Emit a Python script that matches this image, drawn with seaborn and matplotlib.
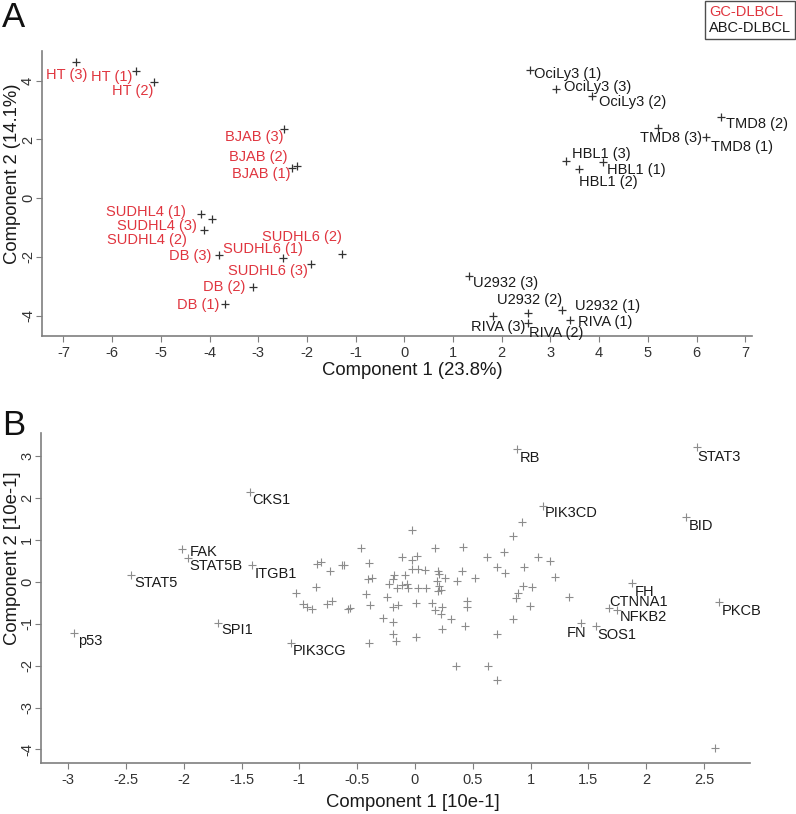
import matplotlib
matplotlib.use("Agg")
import matplotlib.pyplot as plt
from matplotlib.lines import Line2D
import seaborn as sns

# ---- Panel A: cell lines on the first two components ----
gc_names = ["HT (3)", "HT (1)", "HT (2)", "BJAB (3)", "BJAB (2)", "BJAB (1)",
            "SUDHL4 (1)", "SUDHL4 (3)", "SUDHL4 (2)", "DB (3)", "SUDHL6 (1)",
            "SUDHL6 (2)", "SUDHL6 (3)", "DB (2)", "DB (1)"]
gc_x = [-6.74, -5.51, -5.14, -2.47, -2.31, -2.20, -4.18, -4.11, -3.95, -3.81,
        -2.49, -1.28, -1.92, -3.11, -3.68]
gc_y = [4.64, 4.33, 3.96, 2.36, 1.03, 1.10, -0.54, -1.08, -0.71, -1.93,
        -2.04, -1.90, -2.24, -3.02, -3.60]

abc_names = ["OciLy3 (1)", "OciLy3 (3)", "OciLy3 (2)", "TMD8 (2)", "TMD8 (3)",
             "TMD8 (1)", "HBL1 (3)", "HBL1 (2)", "HBL1 (1)", "U2932 (3)",
             "U2932 (2)", "U2932 (1)", "RIVA (3)", "RIVA (2)", "RIVA (1)"]
abc_x = [2.58, 3.11, 3.85, 6.50, 5.21, 6.19, 3.32, 3.58, 4.08, 1.33,
         2.54, 3.24, 1.82, 2.54, 3.40]
abc_y = [4.36, 3.72, 3.48, 2.76, 2.39, 2.08, 1.27, 0.99, 1.23, -2.65,
         -3.91, -3.81, -4.01, -4.25, -4.15]

# ---- Panel B: loadings ----
gene_names = ["RB", "STAT3", "PIK3CD", "BID", "CKS1", "FAK", "STAT5B", "ITGB1",
              "STAT5", "p53", "SPI1", "PIK3CG", "FH", "CTNNA1", "NFKB2", "FN",
              "SOS1", "PKCB"]
gene_x = [0.885, 2.437, 1.11, 2.344, -1.427, -2.018, -1.966, -1.407, -2.457,
          -2.95, -1.70, -1.073, 1.875, 1.681, 1.745, 1.432, 1.570, 2.628]
gene_y = [3.17, 3.23, 1.82, 1.55, 2.16, 0.79, 0.57, 0.40, 0.17, -1.23, -0.97,
          -1.45, -0.02, -0.62, -0.67, -0.98, -1.05, -0.49]

other_x = [-0.467, -0.850, -0.813, -0.735, -0.634, -0.614, -0.401, -0.404, -0.372,
           -0.856, -1.025, -0.421, -0.971, -0.937, -0.888, -0.759, -0.721, -0.582,
           -0.562, -0.389, -0.240, -0.274, -0.193, -0.188, -0.166, 0.009, -0.395,
           -0.115, -0.029, 0.015, -0.029, 0.029, 0.087, -0.179, -0.087, -0.188,
           -0.222, -0.158, -0.115, -0.072, -0.058, -0.188, -0.144, 0.009, -0.022,
           0.928, 0.845, 0.176, 0.418, 0.772, 0.620, 1.064, 1.168, 0.196, 0.210,
           0.260, 0.409, 0.519, 0.361, 0.707, 0.781, 0.943, 1.208, 0.188, 0.210,
           0.225, 0.202, 0.029, 0.095, 0.932, 1.015, 0.888, 0.874, 0.144, 0.173,
           0.231, 0.228, 0.447, 0.447, 0.992, 0.309, 0.433, 0.236, 0.848, 0.707,
           0.352, 0.634, 0.707, 1.335, 2.595]
other_y = [0.805, 0.423, 0.471, 0.263, 0.406, 0.406, 0.447, 0.081, 0.088,
           -0.112, -0.256, -0.280, -0.533, -0.590, -0.638, -0.526, -0.447, -0.645,
           -0.614, -0.542, -0.366, -0.860, -0.963, -1.235, -1.402, -1.326, -1.464,
           0.590, 0.526, 0.628, 0.303, 0.303, 0.287, 0.167, 0.167, 0.065,
           -0.048, -0.150, -0.072, -0.055, -0.150, -0.604, -0.549, -0.502, 1.242,
           1.440, 1.104, 0.805, 0.836, 0.724, 0.590, 0.597, 0.502, 0.270, 0.191,
           0.103, 0.263, 0.103, 0.031, 0.358, 0.215, 0.366, 0.127, 0.024, -0.096,
           -0.191, -0.208, -0.150, -0.136, -0.096, -0.112, -0.256, -0.389, -0.509, -0.669,
           -0.604, -0.772, -0.461, -0.597, -0.573, -0.889, -1.044, -1.128, -0.877, -1.249,
           -2.002, -2.002, -2.341, -0.370, -3.973]

# label placement: (dx, dy in pixels, horizontal alignment)
label_pos = {
    "HT (3)": (11, -13, "right"), "HT (1)": (-4, -6, "right"), "HT (2)": (-1, -9, "right"),
    "BJAB (3)": (-1, -8, "right"), "BJAB (2)": (-4, 11, "right"), "BJAB (1)": (-7, -8, "right"),
    "SUDHL4 (1)": (-15, 2, "right"), "SUDHL4 (3)": (-7, 4, "right"),
    "SUDHL4 (2)": (-25, -21, "right"), "DB (3)": (-7, -1, "right"),
    "SUDHL6 (1)": (20, 9, "right"), "SUDHL6 (2)": (0, 17, "right"),
    "SUDHL6 (3)": (-3, -7, "right"), "DB (2)": (-8, 0, "right"), "DB (1)": (-6, -1, "right"),
    "OciLy3 (1)": (4, -4, "left"), "OciLy3 (3)": (8, 2, "left"), "OciLy3 (2)": (7, -6, "left"),
    "TMD8 (2)": (5, -7, "left"), "TMD8 (3)": (13, -10, "center"), "TMD8 (1)": (5, -10, "left"),
    "HBL1 (3)": (6, 7, "left"), "HBL1 (2)": (0, -13, "left"), "HBL1 (1)": (4, -8, "left"),
    "U2932 (3)": (4, -7, "left"), "U2932 (2)": (2, 13, "center"), "U2932 (1)": (13, 4, "left"),
    "RIVA (3)": (5, -11, "center"), "RIVA (2)": (1, -10, "left"), "RIVA (1)": (8, -2, "left"),
    "RB": (2, -9, "left"), "STAT3": (1, -10, "left"), "PIK3CD": (1, -7, "left"),
    "BID": (3, -9, "left"), "CKS1": (2, -8, "left"), "FAK": (8, -3, "left"),
    "STAT5B": (2, -8, "left"), "ITGB1": (2, -9, "left"), "STAT5": (3, -8, "left"),
    "p53": (4, -8, "left"), "SPI1": (3, -7, "left"), "PIK3CG": (2, -8, "left"),
    "FH": (3, -9, "left"), "CTNNA1": (0, 6, "left"), "NFKB2": (3, -7, "left"),
    "FN": (6, -10, "right"), "SOS1": (1, -9, "left"), "PKCB": (3, -9, "left"),
}

RED = "#e0353f"
AXIS_GRAY = "#7f7f7f"

sns.set_theme(style="ticks")
plt.rcParams["font.family"] = ["Liberation Sans", "DejaVu Sans"]
plt.rcParams["axes.unicode_minus"] = False

fig = plt.figure(figsize=(7.96, 8.14), dpi=100)
ax_a = fig.add_axes([0.0528, 0.5872, 0.8920, 0.3501])
ax_b = fig.add_axes([0.0515, 0.0627, 0.8907, 0.4054])


def style_axes(ax):
    sns.despine(ax=ax)
    for side in ["left", "bottom"]:
        ax.spines[side].set_color(AXIS_GRAY)
        ax.spines[side].set_linewidth(1.2)
    ax.tick_params(axis="both", length=4, width=0.8, color=AXIS_GRAY,
                   labelsize=10.5, labelcolor="#333333", pad=3)
    ax.tick_params(axis="y", labelrotation=90, pad=1)
    for lab in ax.get_yticklabels():
        lab.set_va("center")


def put_labels(ax, names, xs, ys, color):
    for name, x, y in zip(names, xs, ys):
        dx, dy, ha = label_pos[name]
        ax.annotate(name, (x, y), xytext=(dx, dy), textcoords="offset pixels",
                    ha=ha, va="center", fontsize=10.5, color=color)


# Panel A
sns.scatterplot(x=gc_x, y=gc_y, marker="+", color="#333333", s=40,
                linewidth=0.9, ax=ax_a)
sns.scatterplot(x=abc_x, y=abc_y, marker="+", color="#333333", s=40,
                linewidth=0.9, ax=ax_a)
put_labels(ax_a, gc_names, gc_x, gc_y, RED)
put_labels(ax_a, abc_names, abc_x, abc_y, "#1a1a1a")
ax_a.set_xlim(-7.44, 7.14)
ax_a.set_ylim(-4.69, 5.01)
ax_a.set_xticks(range(-7, 8))
ax_a.set_yticks([-4, -2, 0, 2, 4])
ax_a.set_xlabel("Component 1 (23.8%)", fontsize=13.3, color="#1a1a1a")
ax_a.set_ylabel("Component 2 (14.1%)", fontsize=13.3, color="#1a1a1a")
ax_a.xaxis.set_label_coords(0.521, -0.092)
ax_a.yaxis.set_label_coords(-0.030, 0.568)
style_axes(ax_a)

# Panel B
sns.scatterplot(x=other_x, y=other_y, marker="+", color="#8c8c8c", s=30,
                linewidth=0.8, ax=ax_b)
sns.scatterplot(x=gene_x, y=gene_y, marker="+", color="#8c8c8c", s=30,
                linewidth=0.8, ax=ax_b)
put_labels(ax_b, gene_names, gene_x, gene_y, "#1a1a1a")
ax_b.set_xlim(-3.235, 2.898)
ax_b.set_ylim(-4.324, 3.56)
xt = [-3, -2.5, -2, -1.5, -1, -0.5, 0, 0.5, 1, 1.5, 2, 2.5]
ax_b.set_xticks(xt)
ax_b.set_xticklabels([f"{v:g}" for v in xt])
ax_b.set_yticks([-4, -3, -2, -1, 0, 1, 2, 3])
ax_b.set_xlabel("Component 1 [10e-1]", fontsize=13.3, color="#1a1a1a")
ax_b.set_ylabel("Component 2 [10e-1]", fontsize=13.3, color="#1a1a1a")
ax_b.xaxis.set_label_coords(0.524, -0.094)
ax_b.yaxis.set_label_coords(-0.028, 0.621)
style_axes(ax_b)

# legend box (top right)
handles = [Line2D([], [], linestyle="none"), Line2D([], [], linestyle="none")]
leg = fig.legend(handles, ["GC-DLBCL", "ABC-DLBCL"], loc="upper right",
                 bbox_to_anchor=(1.0, 1.0), handlelength=0, handletextpad=0,
                 fontsize=10.5, frameon=True, fancybox=False, borderpad=0.25,
                 labelspacing=0.15, borderaxespad=0.1)
leg.get_frame().set_edgecolor("#222222")
leg.get_frame().set_linewidth(1.0)
leg.get_texts()[0].set_color(RED)
leg.get_texts()[1].set_color("#1a1a1a")

fig.text(0.003, 0.999, "A", fontsize=25, va="top", ha="left", color="#111111")
fig.text(0.003, 0.497, "B", fontsize=25, va="top", ha="left", color="#111111")

fig.savefig("out.png", dpi=100)
